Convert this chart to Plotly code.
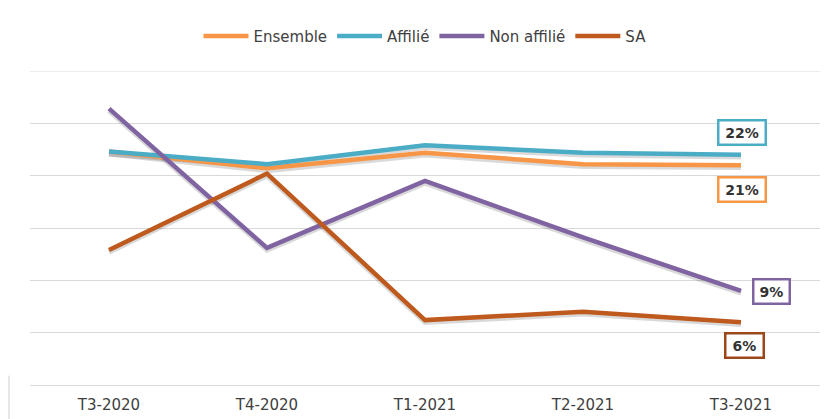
import plotly.graph_objects as go

# Quarterly rates by status (percent)
quarters = ["T3-2020", "T4-2020", "T1-2021", "T2-2021", "T3-2021"]
ensemble = [22.3, 20.7, 22.2, 21.1, 21]
affilie = [22.3, 21.1, 22.9, 22.2, 22]
non_affilie = [26.4, 13.1, 19.5, 14.1, 9]
sa = [12.9, 20.2, 6.2, 7.0, 6]

series = [
    ("Ensemble", ensemble, "#F79646"),
    ("Affilié", affilie, "#4BACC6"),
    ("Non affilié", non_affilie, "#8064A2"),
    ("SA", sa, "#BE5A1E"),
]

FONT = "DejaVu Sans, Verdana, sans-serif"
Y_MAX = 30

# End-of-series value boxes: (series name, border colour, x shift, y shift, box width)
end_labels = [
    ("Affilié", "#4BACC6", 1, 22, 42),
    ("Ensemble", "#F79646", 1, -24, 42),
    ("Non affilié", "#8064A2", 30, -1, 31),
    ("SA", "#9C4719", 3, -23, 33),
]

fig = go.Figure()

# soft drop shadow under each line
for name, vals, color in series:
    fig.add_trace(go.Scatter(
        x=quarters, y=[v - 0.22 for v in vals], mode="lines",
        line=dict(color="rgba(0,0,0,0.15)", width=5),
        hoverinfo="skip", showlegend=False,
    ))

for name, vals, color in series:
    fig.add_trace(go.Scatter(
        x=quarters, y=vals, mode="lines", name=name,
        line=dict(color=color, width=4.5),
    ))

values_by_name = {name: vals for name, vals, _ in series}
for name, color, dx, dy, w in end_labels:
    v = values_by_name[name][-1]
    fig.add_annotation(
        x=quarters[-1], y=v, text=f"<b>{round(v)}%</b>", showarrow=False,
        xshift=dx, yshift=dy, width=w, height=19, align="center",
        font=dict(family=FONT, size=14, color="#333333"),
        bgcolor="white", bordercolor=color, borderwidth=2.5, borderpad=1.5,
    )

# top gridline sits on the plot edge, draw it explicitly
fig.add_shape(type="line", xref="paper", x0=0, x1=1, yref="y", y0=Y_MAX, y1=Y_MAX,
              line=dict(color="#d9d9d9", width=1), layer="below")

# edge of the chart frame at the lower left
fig.add_shape(type="line", xref="paper", x0=-0.0266, x1=-0.0266, yref="paper",
              y0=-0.11, y1=0.03, line=dict(color="#cfcfcf", width=1))

fig.update_layout(
    width=835, height=419,
    margin=dict(l=30, r=15, t=71, b=34, autoexpand=False),
    paper_bgcolor="white", plot_bgcolor="white",
    font=dict(family=FONT, size=15, color="#404040"),
    legend=dict(
        orientation="h", x=0.5, xanchor="center", y=1.111, yanchor="middle",
        font=dict(family=FONT, size=15, color="#404040"),
        itemwidth=45,
    ),
    xaxis=dict(
        type="category", range=[-0.5, 4.5], showgrid=False, automargin=False,
        showline=True, linecolor="#d9d9d9", linewidth=1,
        ticks="", ticklabelstandoff=6,
        tickfont=dict(family=FONT, size=15, color="#404040"),
    ),
    yaxis=dict(
        range=[0, Y_MAX], tickvals=[0, 5, 10, 15, 20, 25, 30], showticklabels=False,
        showgrid=True, gridcolor="#d9d9d9", gridwidth=1, automargin=False,
        zeroline=False, showline=False, ticks="",
    ),
)

fig.write_html("out.html")
